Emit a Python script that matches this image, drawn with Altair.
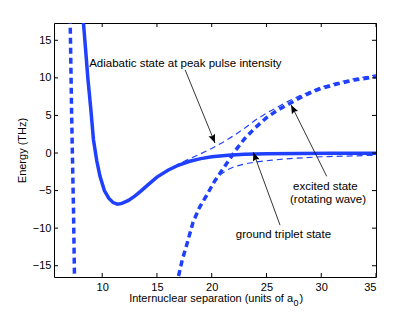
import math
import altair as alt
import pandas as pd

# ---------------- data ----------------
ground_x = [8.12, 8.29, 8.5, 8.7, 8.97, 9.2, 9.5, 9.8, 10.2, 10.6, 11.0, 11.4, 11.8, 12.4,
            13.0, 13.5, 14.2, 15.0, 16.0, 17.0, 18.0, 19.0, 20.0, 21.5, 23.0, 25.0, 28.0, 31.0, 35.0]
ground_y = [21.0, 17.3, 13.5, 9.8, 5.7, 1.8, -1.0, -3.1, -5.0, -6.0, -6.6, -6.8, -6.7, -6.3,
            -5.7, -5.1, -4.2, -3.2, -2.3, -1.6, -1.1, -0.75, -0.5, -0.3, -0.18, -0.1, -0.06, -0.04, -0.03]

exc_in_x = [7.0, 7.08, 7.2, 7.29, 7.38, 7.47, 7.53]
exc_in_y = [22.0, 17.3, 6.0, -1.0, -7.5, -16.5, -21.0]

exc_out_x = [16.7, 16.95, 17.3, 17.7, 18.3, 18.9, 19.55, 20.2, 20.8, 21.5, 22.2, 23.0, 24.0,
             25.0, 26.0, 27.0, 28.0, 29.0, 30.0, 31.5, 33.0, 35.0]
exc_out_y = [-19.0, -16.5, -14.3, -12.3, -9.2, -7.2, -5.6, -3.9, -2.6, -1.1, 0.4, 1.9, 3.4,
             4.7, 5.7, 6.5, 7.3, 8.0, 8.6, 9.2, 9.7, 10.15]

upper_x = [15.0, 16.0, 17.0, 18.0, 19.0, 20.0, 21.0, 22.0, 23.0, 24.0, 25.0, 26.0, 27.0,
           28.0, 29.0, 30.0, 31.5, 33.0, 35.0]
upper_y = [-3.2, -2.2, -1.45, -0.75, -0.1, 0.6, 1.4, 2.3, 3.3, 4.4, 5.3, 6.1, 6.9,
           7.6, 8.2, 8.8, 9.4, 9.9, 10.4]

lower_x = [16.7, 16.95, 17.7, 18.3, 18.9, 19.55, 20.1, 20.8, 21.5, 22.0, 23.0, 24.0, 25.5,
           27.5, 30.0, 35.0]
lower_y = [-19.0, -16.5, -12.3, -9.3, -7.3, -5.7, -4.1, -2.85, -2.2, -1.85, -1.45, -1.2, -0.95,
           -0.7, -0.5, -0.3]

x_ticks = [10, 15, 20, 25, 30, 35]
y_ticks = [-15, -10, -5, 0, 5, 10, 15]

# annotations: text, x, y, align
labels = ["Adiabatic state at peak pulse intensity", "excited state", "(rotating wave)",
          "ground triplet state"]
label_x = [8.81, 27.43, 27.15, 26.55]
label_y = [11.87, -4.5, -6.3, -10.9]
label_align = ["left", "left", "left", "center"]

# arrows: start -> tip
arrow_x1 = [17.57, 30.5, 26.24]
arrow_y1 = [11.07, -3.1, -9.6]
arrow_x2 = [20.3, 27.25, 23.8]
arrow_y2 = [1.33, 6.4, 0.1]

x_title_main = "Internuclear separation (units of a"
x_title_sub = "0"
x_title_end = ")"
y_title = "Energy (THz)"

# ---------------- layout ----------------
XMIN, XMAX = 5.6, 35.0
YMIN, YMAX = -16.5, 17.3
W, H = 322, 254
BLUE = "#2040ff"
FONT = "Liberation Sans"

xs = alt.Scale(domain=[XMIN, XMAX], nice=False, zero=False)
ys = alt.Scale(domain=[YMIN, YMAX], nice=False, zero=False)

AX_X = alt.Axis(values=x_ticks, ticks=False, tickSize=0, domain=False, grid=False,
                labelPadding=4, title=None)
AX_Y = alt.Axis(values=y_ticks, ticks=False, tickSize=0, domain=False, grid=False,
                labelPadding=3, title=y_title, titlePadding=5)


def X(field):
    return alt.X(field, scale=xs, axis=AX_X)


def Y(field):
    return alt.Y(field, scale=ys, axis=AX_Y)


def indexed(xv, yv):
    d = pd.DataFrame({"x": xv, "y": yv})
    d["i"] = range(len(d))
    return d


def curve(data, width, dash=None):
    kw = dict(color=BLUE, strokeWidth=width, clip=True, strokeCap="butt")
    if dash:
        kw["strokeDash"] = dash
    return alt.Chart(data).mark_line(**kw).encode(x=X("x:Q"), y=Y("y:Q"), order="i:Q")


ground = curve(indexed(ground_x, ground_y), 3.5)
exc_in = curve(indexed(exc_in_x, exc_in_y), 3.5, [6, 4])
exc_out = curve(indexed(exc_out_x, exc_out_y), 3.5, [6, 4])
upper = curve(indexed(upper_x, upper_y), 1.2, [6, 4])
lower = curve(indexed(lower_x, lower_y), 1.2, [6, 4])

# inward ticks on all four sides
xt = pd.DataFrame({"t": x_ticks})
yt = pd.DataFrame({"t": y_ticks})
tick_style = dict(color="black", strokeWidth=1)
tb = alt.Chart(xt).mark_rule(**tick_style).encode(x=X("t:Q"), y=alt.value(H), y2=alt.value(H - 4))
tt = alt.Chart(xt).mark_rule(**tick_style).encode(x=X("t:Q"), y=alt.value(0), y2=alt.value(4))
tl = alt.Chart(yt).mark_rule(**tick_style).encode(y=Y("t:Q"), x=alt.value(0), x2=alt.value(4))
tr = alt.Chart(yt).mark_rule(**tick_style).encode(y=Y("t:Q"), x=alt.value(W), x2=alt.value(W - 4))

# x-axis title with a real subscript
one = pd.DataFrame({"k": [0]})
xt_main = alt.Chart(one).mark_text(
    text=x_title_main, align="right", baseline="middle", font=FONT, fontSize=11, color="black"
).encode(x=alt.value(239), y=alt.value(H + 22))
xt_sub = alt.Chart(one).mark_text(
    text=x_title_sub, align="left", baseline="middle", font=FONT, fontSize=9, color="black"
).encode(x=alt.value(239.5), y=alt.value(H + 26))
xt_end = alt.Chart(one).mark_text(
    text=x_title_end, align="left", baseline="middle", font=FONT, fontSize=11, color="black"
).encode(x=alt.value(245.5), y=alt.value(H + 22))

# annotation texts
ann = pd.DataFrame({"label": labels, "x": label_x, "y": label_y, "align": label_align})
texts = []
for al in ["left", "center"]:
    texts.append(
        alt.Chart(ann[ann["align"] == al]).mark_text(
            align=al, baseline="middle", font=FONT, fontSize=11.5, color="black"
        ).encode(x=X("x:Q"), y=Y("y:Q"), text="label:N")
    )

# arrows
px_x = W / (XMAX - XMIN)
px_y = H / (YMAX - YMIN)
angles = []
for a, b, c, d in zip(arrow_x1, arrow_y1, arrow_x2, arrow_y2):
    dx = (c - a) * px_x
    dy = -(d - b) * px_y
    angles.append((math.degrees(math.atan2(dx, -dy)) + 360) % 360)
arr = pd.DataFrame({"x1": arrow_x1, "y1": arrow_y1, "x2": arrow_x2, "y2": arrow_y2,
                    "ang": angles})
shafts = alt.Chart(arr).mark_rule(color="black", strokeWidth=0.8).encode(
    x=X("x1:Q"), y=Y("y1:Q"), x2="x2:Q", y2="y2:Q")
heads = alt.Chart(arr).mark_point(
    shape="M0,0 L-0.4,1 L0,0.85 L0.4,1 Z", filled=True, color="black", opacity=1,
    size=300, strokeWidth=0
).encode(x=X("x2:Q"), y=Y("y2:Q"), angle=alt.Angle("ang:Q", scale=None))

chart = alt.layer(
    upper, lower, exc_in, exc_out, ground, tb, tt, tl, tr, shafts, heads, *texts,
    xt_main, xt_sub, xt_end
).properties(
    width=W, height=H,
    autosize=alt.AutoSizeParams(type="none"),
    padding={"left": 46, "top": 15, "right": 31, "bottom": 34},
    background="white",
).configure_view(
    stroke="black", strokeWidth=1
).configure_axis(
    labelFont=FONT, labelFontSize=11, labelColor="black",
    titleFont=FONT, titleFontSize=11, titleFontWeight="normal", titleColor="black",
)

chart.save("out.html", embed_options={"renderer": "svg", "actions": False})
